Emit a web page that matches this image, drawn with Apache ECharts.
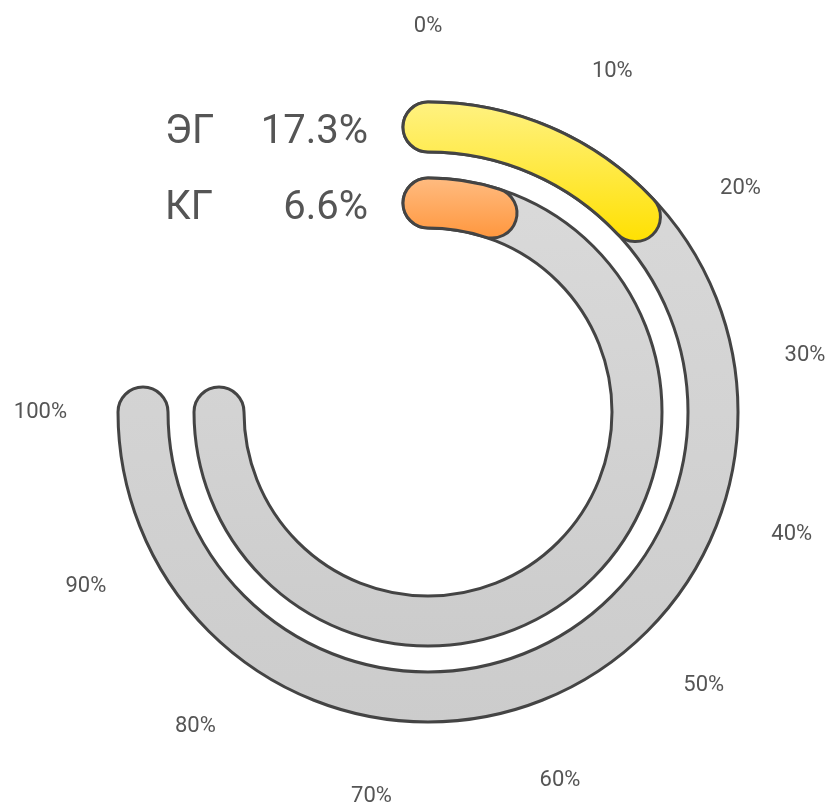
<!DOCTYPE html>
<html>
<head>
<meta charset="utf-8">
<script src="https://cdn.jsdelivr.net/npm/echarts@6/dist/echarts.min.js"></script>
<style>
  html, body { margin: 0; padding: 0; background: #fff; }
  #main { width: 833px; height: 805px; }
</style>
</head>
<body>
<div id="main"></div>
<script>
// категории (внутреннее кольцо -> внешнее)
const groups = ['КГ', 'ЭГ'];
// значения, %
const values = [6.6, 17.3];
// полная шкала под фоном
const fullScale = [100, 100];
// подписи угловой оси
const angleTicks = [0, 10, 20, 30, 40, 50, 60, 70, 80, 90, 100];

const chart = echarts.init(document.getElementById('main'), null, { renderer: 'canvas' });

const grad = (a, b) => new echarts.graphic.LinearGradient(0, 0, 0, 1, [
  { offset: 0, color: a },
  { offset: 1, color: b }
]);
const barColors = [grad('#ffbc82', '#ff963c'), grad('#fff283', '#ffe000')];

// отступы подписей сверху/снизу круга, чтобы отодвинуть их от колец
const tickPad = { 0: [0, 0, 14, 0], 10: [0, 0, 8, 0], 50: [7, 0, 0, 0], 60: [14, 0, 0, 0], 70: [17, 0, 0, 0], 80: [11, 0, 0, 0] };
const tickRich = {};
angleTicks.forEach(t => {
  tickRich['t' + t] = { fontSize: 22, color: '#555', fontFamily: 'Roboto', padding: tickPad[t] || 0 };
});

// две одинаковые полярные системы: фон и значения
const polarBox = { center: [428, 412], radius: [171, 323] };
const angleBase = {
  type: 'value',
  min: angleTicks[0],
  max: angleTicks[angleTicks.length - 1],
  interval: 10,
  startAngle: 90,
  endAngle: -180,
  clockwise: true,
  axisLine: { show: false },
  axisTick: { show: false },
  splitLine: { show: false }
};

chart.setOption({
  animation: false,
  textStyle: { fontFamily: 'Roboto' },
  polar: [polarBox, polarBox],
  angleAxis: [
    Object.assign({}, angleBase, {
      polarIndex: 0,
      axisLabel: {
        margin: 38,
        fontSize: 22,
        color: '#555',
        formatter: v => '{t' + v + '|' + v + '%}',
        rich: tickRich
      }
    }),
    Object.assign({}, angleBase, { polarIndex: 1, axisLabel: { show: false } })
  ],
  radiusAxis: [
    {
      polarIndex: 0,
      type: 'category',
      data: groups,
      axisLine: { show: false },
      axisTick: { show: false },
      axisLabel: {
        interval: 0,
        margin: 60,
        formatter: (name, idx) => '{n|' + name + '}{v|' + values[idx] + '%}',
        rich: {
          n: { fontSize: 40, color: '#555', width: 90, align: 'left', fontFamily: 'Roboto', padding: [12, 0, 0, 0] },
          v: { fontSize: 40, color: '#555', width: 113, align: 'right', fontFamily: 'Roboto', padding: [12, 0, 0, 0] }
        }
      }
    },
    {
      polarIndex: 1,
      type: 'category',
      data: groups,
      axisLine: { show: false },
      axisTick: { show: false },
      axisLabel: { show: false }
    }
  ],
  series: [
    {
      type: 'bar',
      coordinateSystem: 'polar',
      polarIndex: 0,
      data: fullScale,
      roundCap: true,
      barWidth: 50,
      z: 1,
      silent: true,
      itemStyle: {
        color: grad('#dadada', '#cccccc'),
        borderColor: '#444',
        borderWidth: 3
      }
    },
    {
      type: 'bar',
      coordinateSystem: 'polar',
      polarIndex: 1,
      data: values.map((v, i) => ({ value: v, itemStyle: { color: barColors[i] } })),
      roundCap: true,
      barWidth: 50,
      z: 2,
      itemStyle: {
        borderColor: '#444',
        borderWidth: 3
      }
    }
  ]
});
</script>
</body>
</html>
